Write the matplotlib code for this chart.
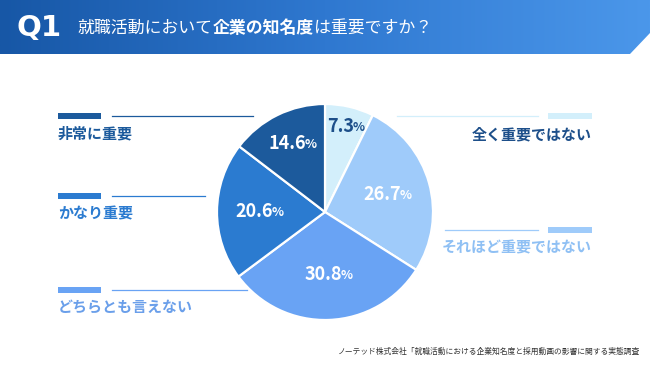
import numpy as np
import matplotlib
matplotlib.use("Agg")
import matplotlib.pyplot as plt
from matplotlib.patches import Polygon, Rectangle
from matplotlib.colors import LinearSegmentedColormap

plt.rcParams['font.family'] = ['Noto Sans CJK JP', 'DejaVu Sans']

# data
labels = ['全く重要ではない', 'それほど重要ではない', 'どちらとも言えない', 'かなり重要', '非常に重要']
values = [7.3, 26.7, 30.8, 20.6, 14.6]
colors = ['#d3effb', '#9fcbfa', '#69a3f4', '#2b7bd0', '#1c5a9c']
text_colors = ['#1d4f8a', '#8fc0f4', '#6a9fea', '#2b7bd0', '#1c5a9c']
title_parts = [('就職活動において', 'normal'), ('企業の知名度', 'bold'), ('は重要ですか？', 'normal')]
source = 'ノーテッド株式会社「就職活動における企業知名度と採用動画の影響に関する実態調査'

W, H = 650, 366
fig = plt.figure(figsize=(W / 100, H / 100), dpi=100)

# pie first, underneath the overlay
cx, cy, r = 325, 212, 108
pax = fig.add_axes([(cx - r) / W, 1 - (cy + r) / H, 2 * r / W, 2 * r / H])
wedges, _ = pax.pie(values, colors=colors, startangle=90, counterclock=False,
                    wedgeprops=dict(edgecolor='white', linewidth=1.6))
pax.set_xlim(-1, 1)
pax.set_ylim(-1, 1)
pax.set_aspect('auto')
pax.axis('off')
pax.set_zorder(0)

# overlay axes in pixel coordinates
bg = fig.add_axes([0, 0, 1, 1])
bg.set_zorder(1)
bg.patch.set_alpha(0)
bg.axis('off')

# header band with gradient
cmap = LinearSegmentedColormap.from_list('hdr', ['#1757a6', '#2f78d0', '#4b97ea'])
grad = np.linspace(0, 1, 256).reshape(1, -1)
im = bg.imshow(grad, cmap=cmap, extent=[0, W, 54, 0], aspect='auto', zorder=0)
band = Polygon([(0, 0), (W, 0), (W, 33), (630, 54), (0, 54)], closed=True,
               facecolor='none', edgecolor='none')
bg.add_patch(band)
im.set_clip_path(band)
bg.set_xlim(0, W)
bg.set_ylim(H, 0)

bg.text(16, 28, 'Q1', color='white', fontsize=21, fontweight='bold',
        family=['DejaVu Sans'], va='center', ha='left')

# title in mixed weights, full-width glyphs
fs = 12.2
em = fs * 100 / 72
x = 77
for part, weight in title_parts:
    bg.text(x, 28, part, color='white', fontsize=fs, fontweight=weight,
            va='center', ha='left')
    x += len(part) * em

# percentage labels
fig.canvas.draw()
renderer = fig.canvas.get_renderer()
label_dist = [0.81, 0.59, 0.58, 0.62, 0.71]
pct_colors = ['#1d4f8a', 'white', 'white', 'white', 'white']
for w, v, d, c in zip(wedges, values, label_dist, pct_colors):
    ang = np.deg2rad((w.theta1 + w.theta2) / 2)
    px = cx + d * r * np.cos(ang)
    py = cy - d * r * np.sin(ang)
    num = bg.text(px, py, f'{v:.1f}', color=c, fontsize=13, fontweight='bold',
                  va='center', ha='center')
    bb = num.get_window_extent(renderer)
    shift = 4
    num.set_x(px - shift)
    bg.text(px - shift + bb.width / 2 - 1.5, py + 1, '%', color=c, fontsize=9,
            fontweight='bold', va='center', ha='left')

# legend items: left side
left_items = [(4, 116, 253, 133), (3, 196, 205, 213), (2, 290, 247, 307)]
for i, ly, lend, ty in left_items:
    bg.add_patch(Rectangle((58, ly - 3), 43, 6, facecolor=colors[i], edgecolor='none'))
    bg.plot([112, lend], [ly, ly], color=colors[i], lw=0.9)
    bg.text(58, ty, labels[i], color=text_colors[i], fontsize=10.8,
            fontweight='bold', va='center', ha='left')

# legend items: right side
right_items = [(0, 116, 397, 134), (1, 230, 445, 247)]
for i, ly, lstart, ty in right_items:
    bg.add_patch(Rectangle((548, ly - 3), 44, 6, facecolor=colors[i], edgecolor='none'))
    bg.plot([lstart, 538], [ly, ly], color=colors[i], lw=0.9)
    bg.text(592, ty, labels[i], color=text_colors[i], fontsize=10.8,
            fontweight='bold', va='center', ha='right')

bg.text(640, 352, source, color='#333333', fontsize=5.6, va='center', ha='right')

fig.savefig('out.png', dpi=100)
